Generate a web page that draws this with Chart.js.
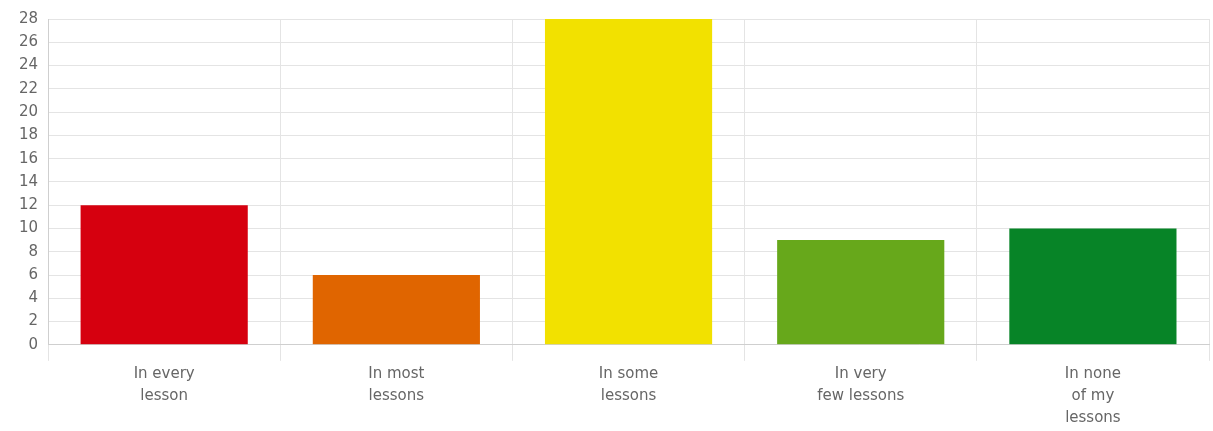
<!DOCTYPE html>
<html>
<head>
<meta charset="utf-8">
<script src="https://cdn.jsdelivr.net/npm/chart.js@4/dist/chart.umd.min.js"></script>
<style>
  html, body { margin: 0; padding: 0; background: #fff; }
  #wrap { width: 1213px; height: 431px; }
</style>
</head>
<body>
<div id="wrap"><canvas id="lessonsChart" width="1213" height="431"></canvas></div>
<script>
// Answers per category
const categories = [
    ['In every', 'lesson'],
    ['In most', 'lessons'],
    ['In some', 'lessons'],
    ['In very', 'few lessons'],
    ['In none', 'of my', 'lessons']
];
const counts = [12, 6, 28, 9, 10];
const barColors = ['#d6000f', '#e06500', '#f2e100', '#67a81b', '#078427'];
const yTicks = { min: 0, max: 28, step: 2 };

const ctx = document.getElementById('lessonsChart').getContext('2d');
new Chart(ctx, {
    type: 'bar',
    data: {
        labels: categories,
        datasets: [{
            data: counts,
            backgroundColor: barColors,
            borderWidth: 0
        }]
    },
    options: {
        responsive: false,
        animation: false,
        devicePixelRatio: 1,
        layout: { padding: { top: 10, right: 4, left: 9, bottom: 0 } },
        plugins: {
            legend: { display: false },
            tooltip: { enabled: false }
        },
        scales: {
            x: {
                grid: { color: '#e4e4e4', tickLength: 16, offset: true },
                border: { color: '#cfcfcf' },
                ticks: {
                    color: '#666',
                    font: { family: 'DejaVu Sans', size: 15, lineHeight: 1.47 },
                    maxRotation: 0,
                    padding: 2
                }
            },
            y: {
                min: yTicks.min,
                max: yTicks.max,
                grid: { color: '#e4e4e4', drawTicks: false },
                border: { color: '#cfcfcf' },
                ticks: {
                    stepSize: yTicks.step,
                    autoSkip: false,
                    color: '#666',
                    font: { family: 'DejaVu Sans', size: 15, lineHeight: 1.2 },
                    padding: 10
                }
            }
        }
    }
});
</script>
</body>
</html>
